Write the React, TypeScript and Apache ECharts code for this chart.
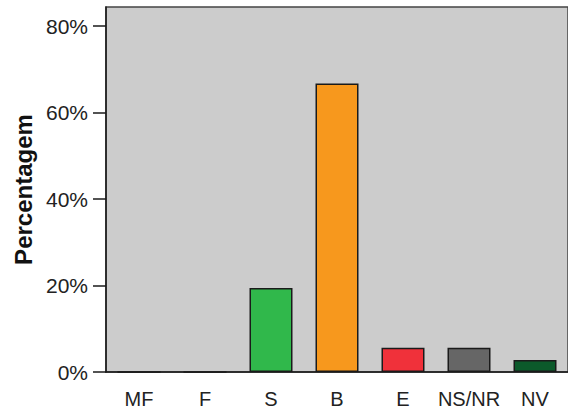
import React, { useEffect, useRef } from "react";
import * as echarts from "echarts";

const categories = ["MF", "F", "S", "B", "E", "NS/NR", "NV"];
const percentages = [0, 0, 19.4, 66.7, 5.6, 5.6, 2.8];
const barColors = ["#30b84b", "#30b84b", "#30b84b", "#f7981d", "#f0313a", "#666666", "#0c5a2b"];
const yTicks = [0, 20, 40, 60, 80];
const yMax = 84.4;
const yName = "Percentagem";

export default function App() {
  const ref = useRef<HTMLDivElement>(null);
  useEffect(() => {
    if (!ref.current) return;
    const chart = echarts.init(ref.current, null, { renderer: "svg" });
    chart.setOption({
      animation: false,
      grid: {
        left: 106,
        top: 7,
        right: -4,
        bottom: 40,
        show: true,
        backgroundColor: "#cccccc",
        borderColor: "#444444",
        borderWidth: 1.5,
      },
      xAxis: {
        type: "category",
        data: categories,
        axisLine: { lineStyle: { color: "#1a1a1a", width: 1.5 } },
        axisTick: { alignWithLabel: true, length: 13, lineStyle: { color: "#1a1a1a", width: 1.5 } },
        axisLabel: { interval: 0, color: "#222", fontSize: 20, fontFamily: "Liberation Sans, Arial", margin: 17 },
      },
      yAxis: {
        type: "value",
        min: 0,
        max: yMax,
        name: yName,
        nameLocation: "middle",
        nameGap: 70,
        nameTextStyle: { color: "#111", fontSize: 24, fontWeight: "bold", fontFamily: "Liberation Sans, Arial" },
        splitLine: { show: false },
        axisLine: { show: true, lineStyle: { color: "#1a1a1a", width: 1.5 } },
        axisTick: { show: true, length: 13, customValues: yTicks, lineStyle: { color: "#1a1a1a", width: 1.5 } },
        axisLabel: {
          customValues: yTicks,
          color: "#222",
          fontSize: 21,
          fontFamily: "Liberation Sans, Arial",
          margin: 18,
          formatter: (v: number) => `${v}%`,
        },
      },
      series: [
        {
          type: "bar",
          barWidth: 43,
          data: percentages.map((v, i) => ({ value: v, itemStyle: { color: barColors[i] } })),
          itemStyle: { borderColor: "#1a1a1a", borderWidth: 1.5 },
        },
      ],
    });
    return () => chart.dispose();
  }, []);
  return (
    <div
      ref={ref}
      style={{ position: "absolute", left: 0, top: 0, width: 568, height: 412 }}
    />
  );
}
